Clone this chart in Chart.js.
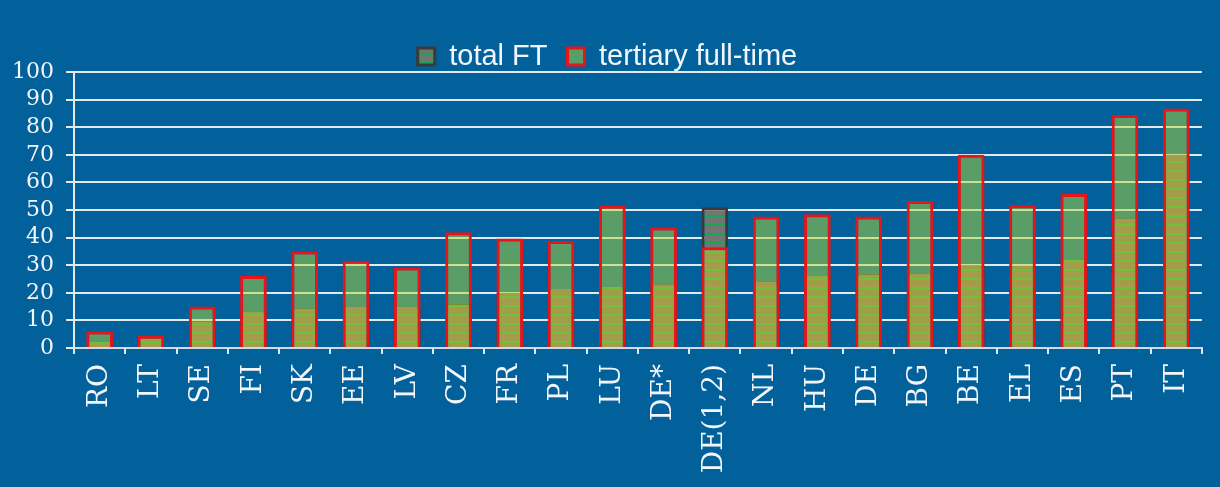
<!DOCTYPE html>
<html>
<head>
<meta charset="utf-8">
<script src="https://cdn.jsdelivr.net/npm/chart.js@4.4.1/dist/chart.umd.min.js"></script>
<style>
  html, body { margin: 0; padding: 0; background: #02609a; }
  #wrap { width: 1220px; height: 487px; }
</style>
</head>
<body>
<div id="wrap"><canvas id="ftChart"></canvas></div>
<script>
// ── DATA ──────────────────────────────────────────────────────
const COUNTRIES   = ['RO','LT','SE','FI','SK','EE','LV','CZ','FR','PL','LU','DE*','DE(1,2)','NL','HU','DE','BG','BE','EL','ES','PT','IT'];
const TOTAL_FT    = [2.2, 4.3, 9.5, 13.2, 14.4, 15, 15, 15.9, 20, 21.4, 22.2, 23.1, 51, 24, 26.1, 26.8, 27, 30, 29.8, 31.9, 47, 70];
const TERTIARY_FT = [6, 4.4, 15, 26.1, 35, 31.6, 29.2, 41.9, 39.7, 38.8, 51.5, 43.7, 36.5, 47.6, 48.5, 47.6, 53.3, 70, 51.7, 55.8, 84.4, 86.8];
const Y_MAX  = 100;
const Y_STEP = 10;

// ── COLOURS ───────────────────────────────────────────────────
const RED       = '#e8141a';
const DARK      = '#3a3a3a';
const WHITE     = '#f2f6fa';
const GRID      = '#e2eaf1';
const GREEN_SEE = 'rgba(180,218,50,0.5)';   // see-through green
const GREEN     = '#5b9a66';
const OLIVE     = '#a39d4b';
const OLIVE_LN  = '#6cc23a';
const GREY      = '#747474';
const GREY_LN   = '#17a84e';

// 1px wide column pattern: `upper` above splitValue, striped below
function barFill(chart, splitValue, upper, lower, stripe) {
  const y = chart.scales.y;
  if (!y || !isFinite(y.getPixelForValue(0))) return lower;
  const h = chart.height;
  const c = document.createElement('canvas');
  c.width = 1; c.height = h;
  const g = c.getContext('2d');
  const base = Math.round(y.getPixelForValue(0));
  const split = splitValue == null ? -1 : y.getPixelForValue(splitValue);
  for (let r = 0; r < h; r++) {
    const k = (((base - r) % 9) + 9) % 9;
    if (r < split) g.fillStyle = upper;
    else g.fillStyle = (k === 6 || k === 7) ? stripe : lower;
    g.fillRect(0, r, 1, 1);
  }
  return chart.ctx.createPattern(c, 'repeat');
}

function tertiaryFill(ctx) {
  if (ctx.type !== 'data') return GREEN;
  return barFill(ctx.chart, TOTAL_FT[ctx.dataIndex], GREEN_SEE, OLIVE, OLIVE_LN);
}

function totalFill(ctx) {
  return barFill(ctx.chart, null, GREY, GREY, GREY_LN);
}

const SERIF = "'DejaVu Serif', serif";
const SANS  = "'Liberation Sans', Arial, sans-serif";

const ctx = document.getElementById('ftChart').getContext('2d');
new Chart(ctx, {
  type: 'bar',
  data: {
    labels: COUNTRIES,
    datasets: [
      {
        label: 'tertiary full-time',
        data: TERTIARY_FT,
        order: 0,
        backgroundColor: tertiaryFill,
        borderColor: RED,
        borderWidth: 3,
      },
      {
        label: 'total FT',
        data: TOTAL_FT,
        order: 1,
        backgroundColor: totalFill,
        borderColor: DARK,
        borderWidth: 3,
      }
    ]
  },
  options: {
    responsive: true,
    maintainAspectRatio: false,
    animation: false,
    datasets: { bar: { grouped: false, barPercentage: 0.52, categoryPercentage: 1 } },
    layout: { padding: { top: 22, right: 5, left: 0, bottom: 0 } },
    plugins: {
      legend: {
        reverse: true,
        maxHeight: 50,
        labels: {
          color: WHITE,
          font: { family: SANS, size: 29 },
          boxWidth: 17,
          boxHeight: 17,
          padding: 20,
        }
      },
      tooltip: { enabled: false }
    },
    scales: {
      x: {
        grid: { drawOnChartArea: false, color: GRID, tickLength: 6, lineWidth: 2 },
        border: { color: '#cfdce8', width: 2 },
        ticks: {
          color: WHITE,
          font: { family: SERIF, size: 28 },
          minRotation: 90,
          maxRotation: 90,
          autoSkip: false,
          padding: 10,
        },
        afterFit: s => { s.height = 139; }
      },
      y: {
        min: 0,
        max: Y_MAX,
        grid: { color: GRID, lineWidth: 2, tickLength: 8 },
        border: { color: GRID, width: 2 },
        ticks: {
          stepSize: Y_STEP,
          autoSkip: false,
          color: WHITE,
          font: { family: SERIF, size: 22 },
          padding: 12,
        },
        afterFit: s => { s.width = 74; }
      }
    }
  }
});
</script>
</body>
</html>
